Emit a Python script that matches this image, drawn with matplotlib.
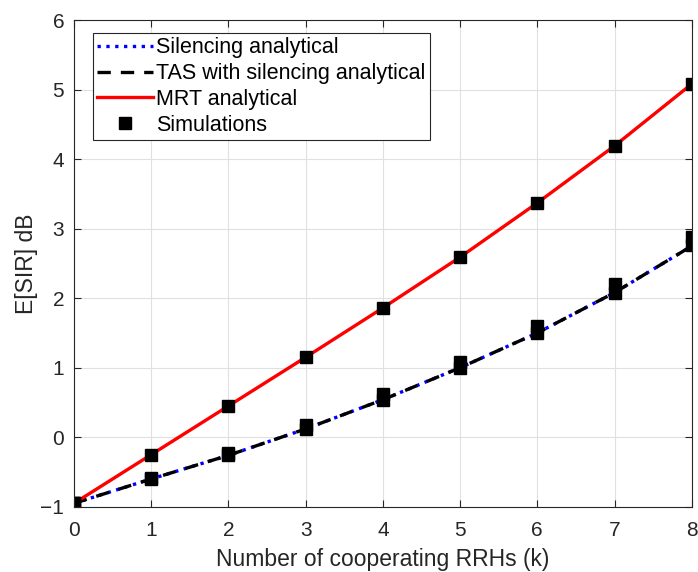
import numpy as np
import matplotlib.pyplot as plt

plt.rcParams['font.family'] = ['Liberation Sans', 'DejaVu Sans']

# number of cooperating RRHs
k = [0, 1, 2, 3, 4, 5, 6, 7, 8]

# analytical E[SIR] in dB
silencing_an = [-0.95, -0.60, -0.26, 0.12, 0.54, 1.00, 1.50, 2.08, 2.75]
tas_an = [-0.95, -0.60, -0.26, 0.12, 0.54, 1.00, 1.50, 2.08, 2.75]
mrt_an = [-0.95, -0.25, 0.45, 1.15, 1.86, 2.59, 3.37, 4.19, 5.08]

# simulated values
silencing_sim = [-0.95, -0.58, -0.22, 0.18, 0.62, 1.08, 1.60, 2.20, 2.88]
tas_sim = [-0.95, -0.60, -0.26, 0.12, 0.54, 1.00, 1.50, 2.08, 2.76]
mrt_sim = [-0.95, -0.25, 0.45, 1.15, 1.86, 2.59, 3.37, 4.19, 5.08]

txt = '#262626'

fig = plt.figure(figsize=(6.98, 5.72), dpi=100)
ax = fig.add_axes([0.106, 0.114, 0.885, 0.851])

ax.plot(k, silencing_an, ':', color='blue', lw=2.4, label='Silencing analytical')
ax.plot(k, tas_an, '--', color='black', lw=2.4, dashes=(4, 3), label='TAS with silencing analytical')
ax.plot(k, mrt_an, '-', color='red', lw=2.4, label='MRT analytical')
ax.plot(k, silencing_sim, 's', color='black', ms=9, label='Simulations')
ax.plot(k, tas_sim, 's', color='black', ms=9)
ax.plot(k, mrt_sim, 's', color='black', ms=9)

ax.set_xlim(0, 8)
ax.set_ylim(-1, 6)
ax.set_xticks(np.arange(0, 9, 1))
ax.set_yticks(np.arange(-1, 7, 1))
ax.set_yticklabels(['\u22121', '0', '1', '2', '3', '4', '5', '6'])
ax.grid(True, color='#e0e0e0', lw=0.8)
ax.set_axisbelow(True)
ax.tick_params(direction='in', length=5, colors=txt, labelsize=15,
               top=True, right=True, pad=7)
ax.tick_params(axis='x', pad=10)
for s in ax.spines.values():
    s.set_color(txt)
    s.set_linewidth(0.8)

ax.set_xlabel('Number of cooperating RRHs (k)', fontsize=16.5, color=txt, labelpad=6)
ax.set_ylabel('E[SIR] dB', fontsize=16.5, color=txt, labelpad=2)

leg = ax.legend(loc='upper left', bbox_to_anchor=(0.03, 0.973), fontsize=15.5,
                handlelength=2.6, handletextpad=0.15, borderpad=0.2,
                labelspacing=0.22, borderaxespad=0, fancybox=False,
                edgecolor=txt, framealpha=1)
leg.get_frame().set_linewidth(0.8)

fig.savefig('out.png', dpi=100)
